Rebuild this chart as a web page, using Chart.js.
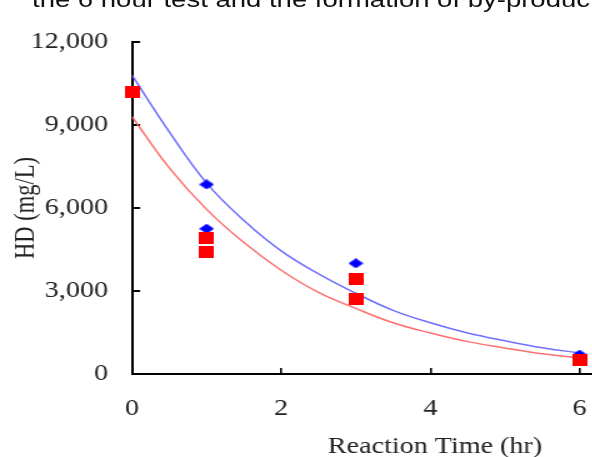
<!DOCTYPE html>
<html>
<head>
<meta charset="utf-8">
<script src="https://cdn.jsdelivr.net/npm/chart.js@4"></script>
<style>
  html, body { margin: 0; padding: 0; background: #fff; overflow: hidden; }
  /* the source figure is stretched sideways, so draw narrow and scale */
  #wrap { position: relative; width: 480px; height: 457px; transform: scaleX(1.25); transform-origin: 0 0; }
  #caption { position: absolute; left: 25.6px; top: -11px; font: 22px "Liberation Sans", Arial, sans-serif; line-height: 22px; color: #111; white-space: nowrap; }
  canvas { position: absolute; left: 0; top: 0; }
</style>
</head>
<body>
<div id="wrap">
  <div id="caption">the 6 hour test and the formation of by-products</div>
  <canvas id="chart" width="480" height="457"></canvas>
</div>
<script>
// measured points
const blueX = [0, 1, 1, 3, 3, 6];
const blueY = [10200, 6850, 5250, 4000, 2700, 700];
const redX = [0, 1, 1, 3, 3, 6];
const redY = [10200, 4900, 4400, 3450, 2700, 500];

// trend curves
const fitX = [0, 0.5, 1, 1.5, 2, 2.5, 3, 3.5, 4, 4.5, 5, 5.5, 6];
const blueFit = [10800, 8750, 6900, 5550, 4450, 3620, 2920, 2300, 1850, 1480, 1200, 950, 760];
const redFit = [9300, 7450, 5950, 4750, 3750, 2950, 2370, 1850, 1480, 1170, 940, 730, 580];

const xTicks = [0, 2, 4, 6];
const yTicks = [0, 3000, 6000, 9000, 12000];

const serif = '"Liberation Serif", "Times New Roman", serif';
const textColor = '#222';

function pts(xs, ys) {
  return xs.map((x, i) => ({ x: x, y: ys[i] }));
}

// marker images
function squareMarker() {
  const c = document.createElement('canvas');
  c.width = 12; c.height = 12;
  const g = c.getContext('2d');
  g.fillStyle = '#ff0000';
  g.fillRect(0, 0, 12, 12);
  return c;
}
function diamondMarker() {
  const c = document.createElement('canvas');
  c.width = 12; c.height = 10;
  const g = c.getContext('2d');
  g.fillStyle = '#0000ff';
  g.beginPath();
  g.moveTo(6, 0); g.lineTo(12, 5); g.lineTo(6, 10); g.lineTo(0, 5);
  g.closePath();
  g.fill();
  return c;
}

const xTitle = {
  id: 'xTitle',
  afterDraw(chart) {
    const ctx = chart.ctx;
    ctx.save();
    ctx.font = '22.5px ' + serif;
    ctx.fillStyle = textColor;
    ctx.textAlign = 'center';
    ctx.textBaseline = 'alphabetic';
    ctx.fillText('Reaction Time (hr)', 348, 453);
    ctx.restore();
  }
};

new Chart(document.getElementById('chart'), {
  type: 'scatter',
  data: {
    datasets: [
      {
        label: 'red',
        data: pts(redX, redY),
        pointStyle: squareMarker(),
        clip: false,
        order: 0
      },
      {
        label: 'blue',
        data: pts(blueX, blueY),
        pointStyle: diamondMarker(),
        clip: false,
        order: 1
      },
      {
        label: 'blue fit',
        data: pts(fitX, blueFit),
        showLine: true,
        borderColor: 'rgba(95, 95, 255, 0.9)',
        borderWidth: 1.5,
        pointRadius: 0,
        tension: 0.4,
        order: 2
      },
      {
        label: 'red fit',
        data: pts(fitX, redFit),
        showLine: true,
        borderColor: 'rgba(255, 95, 95, 0.9)',
        borderWidth: 1.5,
        pointRadius: 0,
        tension: 0.4,
        order: 3
      }
    ]
  },
  options: {
    responsive: false,
    animation: false,
    layout: { padding: { top: 42, right: 0, left: 0, bottom: 0 } },
    plugins: {
      legend: { display: false },
      tooltip: { enabled: false }
    },
    scales: {
      x: {
        type: 'linear',
        min: 0,
        max: 6.19,
        afterBuildTicks: (s) => { s.ticks = xTicks.map(v => ({ value: v })); },
        afterFit: (s) => { s.height = 83; s.paddingLeft = 0; s.paddingRight = 0; },
        border: { color: '#000', width: 2 },
        grid: { drawOnChartArea: false, color: '#000', tickLength: -6, lineWidth: 1.6 },
        ticks: {
          includeBounds: false,
          padding: 28,
          color: textColor,
          font: { family: serif, size: 22.5 }
        }
      },
      y: {
        min: 0,
        max: 12000,
        afterBuildTicks: (s) => { s.ticks = yTicks.map(v => ({ value: v })); },
        afterFit: (s) => { s.width = 105.6; s.paddingTop = 0; s.paddingBottom = 0; },
        border: { color: '#000', width: 2 },
        grid: { drawOnChartArea: false, color: '#000', tickLength: -6.5, lineWidth: 2 },
        ticks: {
          padding: 25.7,
          color: textColor,
          font: { family: serif, size: 22.5 },
          callback: (v) => v.toLocaleString('en-US')
        },
        title: {
          display: true,
          text: 'HD (mg/L)',
          color: textColor,
          font: { family: serif, size: 22.5 },
          padding: { top: 8, bottom: 0 }
        }
      }
    }
  },
  plugins: [xTitle]
});
</script>
</body>
</html>
